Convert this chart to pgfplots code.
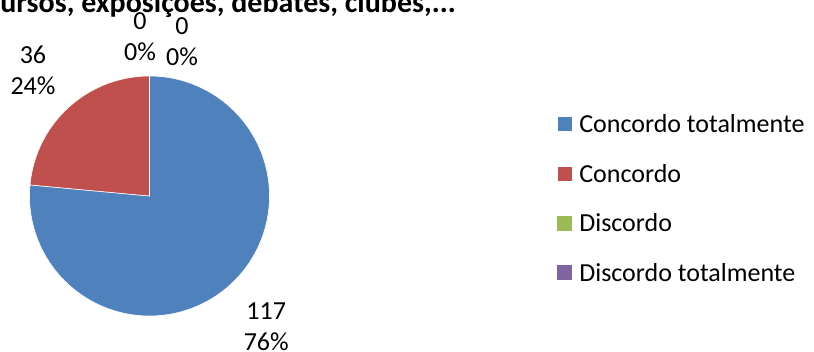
\documentclass[border=0pt]{standalone}
\usepackage{pgfplots}
\pgfplotsset{compat=1.18}
\usepackage{fontspec}
\setmainfont{Carlito}
\definecolor{pieblue}{HTML}{4F81BD}
\definecolor{piered}{HTML}{C0504D}
\definecolor{piegreen}{HTML}{9BBB59}
\definecolor{piepurple}{HTML}{8064A2}
% data: Concordo totalmente, Concordo, Discordo, Discordo totalmente
\def\vA{117}
\def\vB{36}
\def\vC{0}
\def\vD{0}
\pgfmathsetmacro\total{\vA+\vB+\vC+\vD}
\pgfmathsetmacro\aStart{90}
\pgfmathsetmacro\aA{90-360*(\vA/\total)}
\pgfmathsetmacro\aB{\aA-360*(\vB/\total)}
\pgfmathtruncatemacro\pA{round(100*(\vA/\total))}
\pgfmathtruncatemacro\pB{round(100*(\vB/\total))}
\pgfmathtruncatemacro\pC{round(100*(\vC/\total))}
\pgfmathtruncatemacro\pD{round(100*(\vD/\total))}
\begin{document}
\begin{tikzpicture}
\useasboundingbox (0,0) rectangle (814pt,351pt);
\clip (0,0) rectangle (814pt,351pt);
\node[anchor=base east, font=\fontsize{30}{36}\selectfont\bfseries, inner sep=0pt] at (456pt,338.5pt) {concursos, exposições, debates, clubes,...};
\begin{axis}[
  x=120pt, y=120pt,
  xmin=-1, xmax=1, ymin=-1, ymax=1,
  hide axis, clip=false,
  anchor=south west, at={(29.5pt,35pt)},
  legend image code/.code={\fill[#1] (0pt,-7.5pt) rectangle (15pt,7.5pt);},
  legend cell align=left,
  legend style={at={(2.198,0.84)}, anchor=north west, draw=none, fill=none,
    inner sep=0pt, outer sep=0pt, row sep=30pt, column sep=6.7pt,
    font=\fontsize{26}{31}\selectfont, nodes={inner sep=0pt}},
]
\addplot[fill=pieblue, draw=white, line width=0.6pt, domain=\aA:\aStart, samples=150] ({cos(x)},{sin(x)}) -- (axis cs:0,0) -- cycle;
\addplot[fill=piered, draw=white, line width=0.6pt, domain=\aB:\aA, samples=60] ({cos(x)},{sin(x)}) -- (axis cs:0,0) -- cycle;
\addlegendimage{fill=piegreen, draw=none}
\addlegendimage{fill=piepurple, draw=none}
\legend{Concordo totalmente, Concordo, Discordo, Discordo totalmente}
\tikzset{lbl/.style={font=\fontsize{26}{31}\selectfont, align=center, inner sep=0pt}}
\node[lbl] at (axis cs:0.973,-1.0875) {\vA\\\pA\%};
\node[lbl] at (axis cs:-0.971,1.045) {\vB\\\pB\%};
\node[lbl] at (axis cs:-0.079,1.325) {\vC\\\pC\%};
\node[lbl] at (axis cs:0.271,1.283) {\vD\\\pD\%};
\end{axis}
\end{tikzpicture}
\end{document}
